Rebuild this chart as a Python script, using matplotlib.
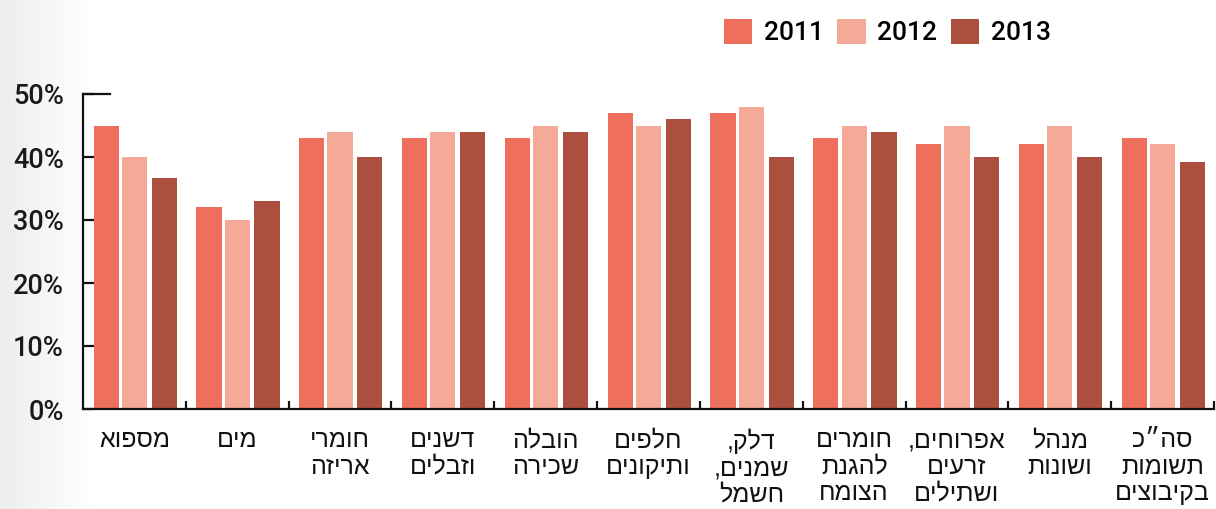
import numpy as np
import matplotlib
matplotlib.use("Agg")
import matplotlib.pyplot as plt
from matplotlib.patches import Patch

categories = [
    "מספוא",
    "מים",
    "חומרי\nאריזה",
    "דשנים\nוזבלים",
    "הובלה\nשכירה",
    "חלפים\nותיקונים",
    "דלק,\nשמנים,\nחשמל",
    "חומרים\nלהגנת\nהצומח",
    "אפרוחים,\nזרעים\nושתילים",
    "מנהל\nושונות",
    "סה״כ\nתשומות\nבקיבוצים",
]
years = ["2011", "2012", "2013"]
v2011 = [45, 32, 43, 43, 43, 47, 47, 43, 42, 42, 43]
v2012 = [40, 30, 44, 44, 45, 45, 48, 45, 45, 45, 42]
v2013 = [36.7, 33, 40, 44, 44, 46, 40, 44, 40, 40, 39.2]
yticks = [0, 10, 20, 30, 40, 50]

colors = ["#EF6F5D", "#F4AA97", "#AC4F3E"]
offsets = [-0.275, 0.0, 0.29]
width = 0.245


def visual(s):
    # reverse each line for right-to-left display
    return "\n".join(line[::-1] for line in s.split("\n"))


fig = plt.figure(figsize=(12.16, 5.09), dpi=100)

# light gradient on the left edge
gax = fig.add_axes([0, 0, 0.075, 1], zorder=-5)
grad = np.linspace(0.93, 1.0, 256)[None, :]
gax.imshow(np.dstack([grad, grad, grad]), aspect="auto", extent=[0, 1, 0, 1])
gax.axis("off")

ax = fig.add_axes([83 / 1216, 1 - 409 / 509, (1214 - 83) / 1216, (409 - 94) / 509])
ax.patch.set_alpha(0)

x = np.arange(len(categories))
for vals, c, off, lab in zip([v2011, v2012, v2013], colors, offsets, years):
    ax.bar(x + off, vals, width=width, color=c, label=lab, zorder=2)

ax.set_xlim(-0.5, len(categories) - 0.5)
ax.set_ylim(0, 50)

for s in ["top", "right"]:
    ax.spines[s].set_visible(False)
for s in ["left", "bottom"]:
    ax.spines[s].set_linewidth(1.6)
    ax.spines[s].set_color("#111111")
    ax.spines[s].set_zorder(3)
ax.spines["bottom"].set_bounds(-0.5, len(categories) - 0.5)

ax.set_yticks(yticks)
ax.set_yticklabels([f"{t}%" for t in yticks], fontsize=19.5, family="Roboto",
                   fontweight="medium", color="#1a1a1a")
ax.tick_params(axis="y", direction="in", length=8, width=1.6, color="#111111", pad=14)
ax.axhline(50, xmin=0, xmax=27 / 1131, color="#111111", lw=1.6, clip_on=False, zorder=3)

ax.set_xticks(x)
ax.set_xticklabels([visual(c) for c in categories], fontsize=18,
                   family="Liberation Sans", linespacing=1.12, color="#111111", va="top")
ax.tick_params(axis="x", which="major", length=0, pad=14)
ax.set_xticks(np.arange(0.5, len(categories) + 0.5, 1.0), minor=True)
ax.tick_params(axis="x", which="minor", direction="in", length=6, width=1.6, color="#111111")

handles = [Patch(facecolor=c, label=y) for c, y in zip(colors, years)]
fig.legend(handles=handles, loc="center left", bbox_to_anchor=(724 / 1216, 1 - 32 / 509),
           ncol=3, frameon=False, prop={"family": "Roboto", "weight": "medium", "size": 19},
           handlelength=1.07, handleheight=1.07, handletextpad=0.45, columnspacing=0.5,
           borderaxespad=0, borderpad=0)

fig.savefig("out.png", dpi=100)
